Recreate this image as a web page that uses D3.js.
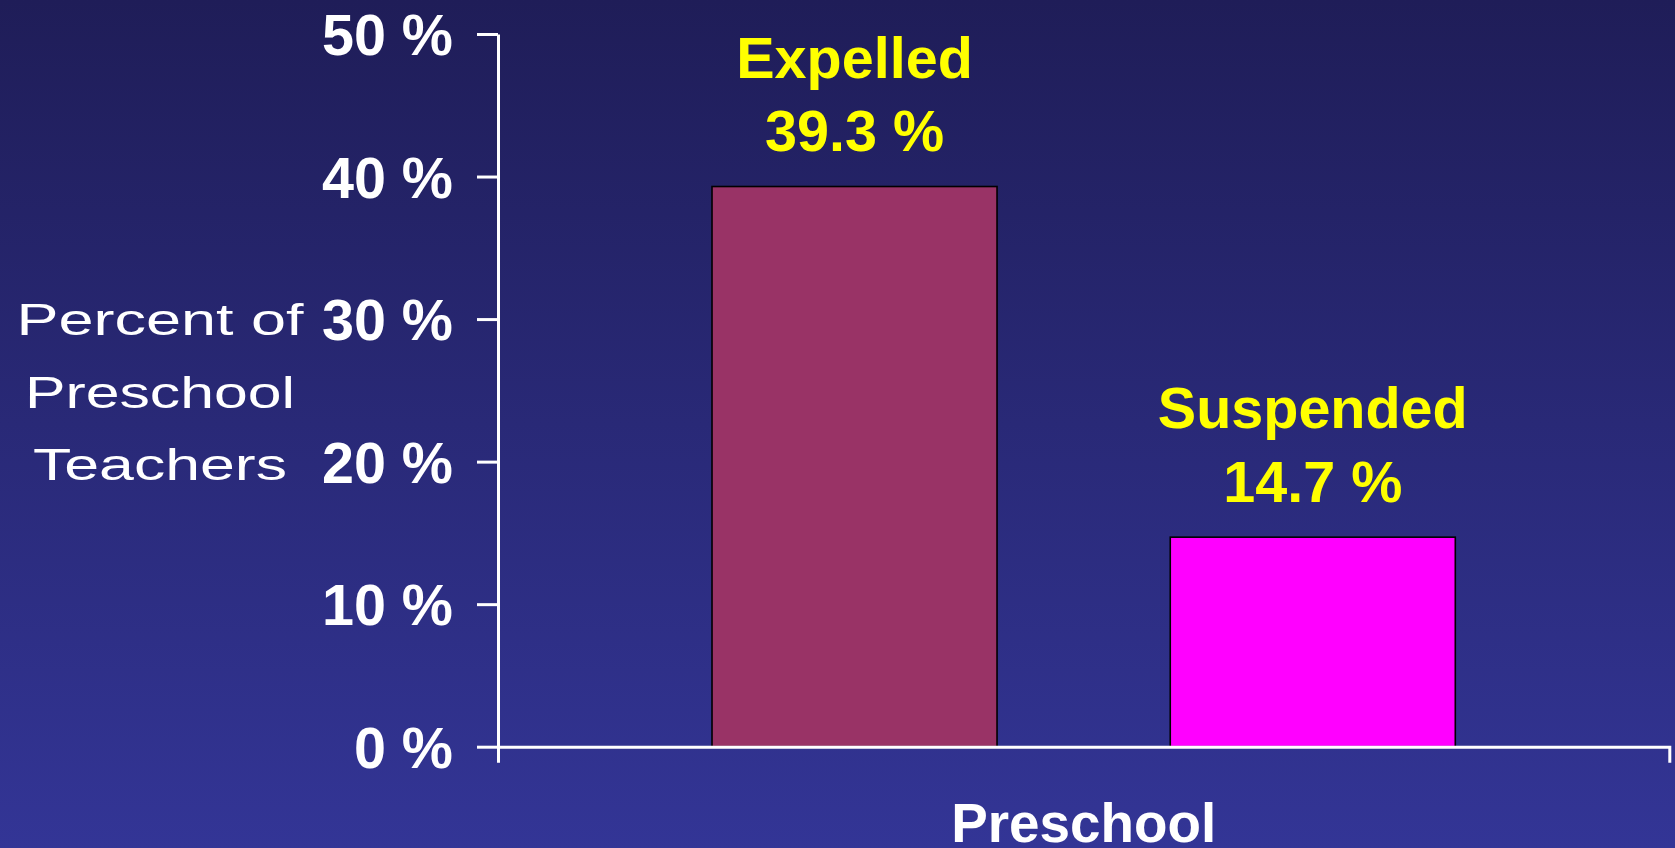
<!DOCTYPE html>
<html>
<head>
<meta charset="utf-8">
<script src="https://cdn.jsdelivr.net/npm/d3@7"></script>
<style>
  html, body { margin: 0; padding: 0; overflow: hidden; }
  svg { display: block; }
</style>
</head>
<body>
<script>
const categories = ["Preschool"];
const seriesNames = ["Expelled", "Suspended"];
const seriesValues = [39.3, 14.7];
const valueLabels = ["39.3 %", "14.7 %"];
const tickValues = [0, 10, 20, 30, 40, 50];
const tickLabels = ["0 %", "10 %", "20 %", "30 %", "40 %", "50 %"];
const seriesColors = ["#993366", "#FF00FF"];
const yTitleLines = ["Percent of", "Preschool", "Teachers"];

const W = 1675, H = 848;
const FONT = "'Liberation Sans', Arial, Helvetica, sans-serif";

const svg = d3.select("body").append("svg").attr("width", W).attr("height", H);

const defs = svg.append("defs");
const grad = defs.append("linearGradient").attr("id", "bg").attr("x1", 0).attr("y1", 0).attr("x2", 0).attr("y2", 1);
grad.append("stop").attr("offset", "0%").attr("stop-color", "#1f1d58");
grad.append("stop").attr("offset", "100%").attr("stop-color", "#333596");
svg.append("rect").attr("width", W).attr("height", H).attr("fill", "url(#bg)");

const x0 = 498, x1 = 1669.3, yBottom = 746.7, yTop = 34;

const y = d3.scaleLinear().domain([0, 50]).range([yBottom, yTop]);
const xCat = d3.scaleBand().domain(categories).range([x0, x1]);
const xSeries = d3.scaleBand().domain(seriesNames).range([0, xCat.bandwidth()])
  .paddingInner(0.378).paddingOuter(0.467);

// Bars
const bars = svg.append("g");
seriesNames.forEach((name, i) => {
  const bx = xCat(categories[0]) + xSeries(name);
  bars.append("rect")
    .attr("x", bx)
    .attr("y", y(seriesValues[i]))
    .attr("width", xSeries.bandwidth())
    .attr("height", y(0) - y(seriesValues[i]))
    .attr("fill", seriesColors[i])
    .attr("stroke", "#000")
    .attr("stroke-width", 1.6);
  const cx = bx + xSeries.bandwidth() / 2;
  bars.append("text")
    .attr("x", cx).attr("y", y(seriesValues[i]) - 109)
    .attr("text-anchor", "middle")
    .attr("font-family", FONT).attr("font-weight", "bold").attr("font-size", 57.5)
    .attr("fill", "#FFFF00")
    .text(name);
  bars.append("text")
    .attr("x", cx).attr("y", y(seriesValues[i]) - 35.6)
    .attr("text-anchor", "middle")
    .attr("font-family", FONT).attr("font-weight", "bold").attr("font-size", 57.5)
    .attr("fill", "#FFFF00")
    .text(valueLabels[i]);
});

// Y axis
const yAxis = svg.append("g").attr("transform", `translate(${x0},0)`)
  .call(d3.axisLeft(y).tickValues(tickValues).tickSize(21).tickSizeOuter(0).tickPadding(24)
    .tickFormat((d, i) => tickLabels[i]));
yAxis.select(".domain").attr("stroke", "#fff").attr("stroke-width", 3);
yAxis.selectAll(".tick line").attr("stroke", "#fff").attr("stroke-width", 3);
yAxis.selectAll(".tick text")
  .attr("fill", "#fff").attr("font-family", FONT).attr("font-weight", "bold").attr("font-size", 57.5)
  .attr("dy", "0.36em");

// X axis
const xAxis = svg.append("g").attr("transform", `translate(0,${yBottom})`)
  .call(d3.axisBottom(xCat).tickSize(0).tickSizeOuter(16).tickPadding(0));
xAxis.select(".domain").attr("stroke", "#fff").attr("stroke-width", 3).attr("fill", "none");
xAxis.selectAll(".tick text")
  .attr("fill", "#fff").attr("font-family", FONT).attr("font-weight", "bold").attr("font-size", 54.8)
  .attr("y", 95.5).attr("dy", 0);

// Y title
const titleW = [287, 270, 254];
const titleY = [335, 408, 480];
const titleG = svg.append("g");
yTitleLines.forEach((t, i) => {
  titleG.append("text")
    .attr("x", 160).attr("y", titleY[i])
    .attr("text-anchor", "middle")
    .attr("font-family", FONT).attr("font-size", 44)
    .attr("fill", "#fff")
    .attr("textLength", titleW[i]).attr("lengthAdjust", "spacingAndGlyphs")
    .text(t);
});
</script>
</body>
</html>
